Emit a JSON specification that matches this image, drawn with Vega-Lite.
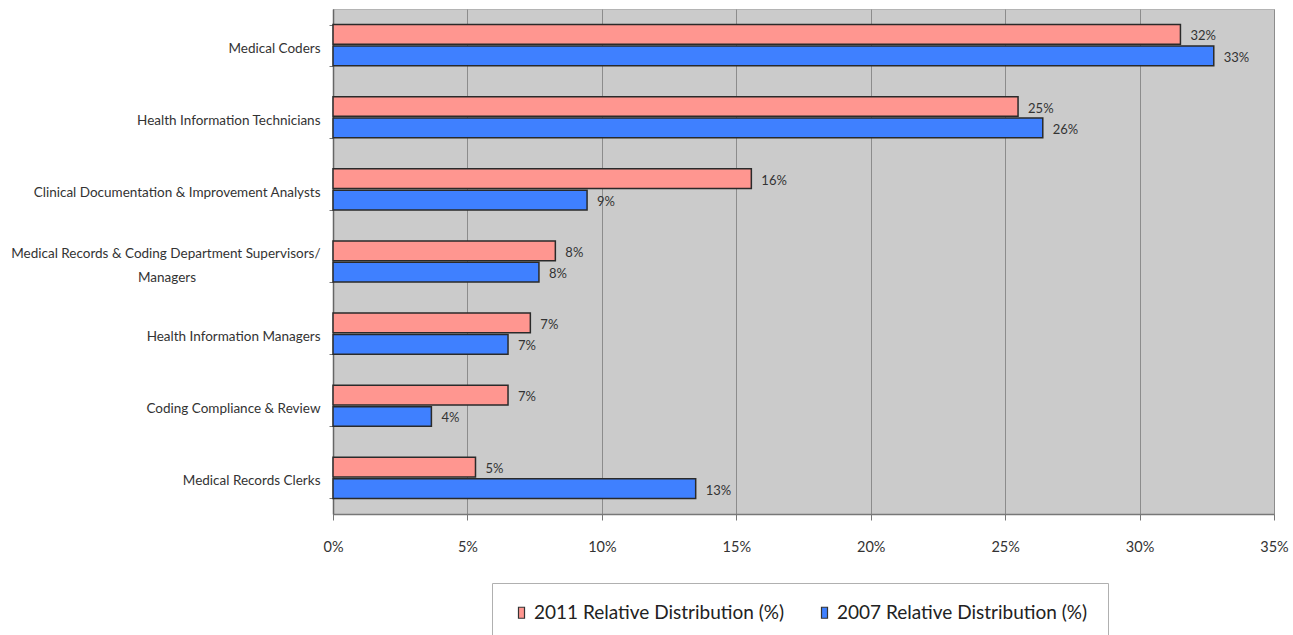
{
  "$schema": "https://vega.github.io/schema/vega-lite/v6.json",
  "width": 941,
  "height": 505,
  "autosize": {"type": "none"},
  "padding": {"left": 333, "top": 9, "right": 19, "bottom": 121},
  "background": "white",
  "config": {
    "font": "Lato",
    "view": {"fill": "#cbcbcb", "stroke": "#b4b4b4", "strokeWidth": 1}
  },
  "data": {
    "values": [
      {"role": "Medical Coders", "series": "2011 Relative Distribution (%)", "share": 0.3152},
      {"role": "Medical Coders", "series": "2007 Relative Distribution (%)", "share": 0.3276},
      {"role": "Health Information Technicians", "series": "2011 Relative Distribution (%)", "share": 0.2548},
      {"role": "Health Information Technicians", "series": "2007 Relative Distribution (%)", "share": 0.2640},
      {"role": "Clinical Documentation & Improvement Analysts", "series": "2011 Relative Distribution (%)", "share": 0.1556},
      {"role": "Clinical Documentation & Improvement Analysts", "series": "2007 Relative Distribution (%)", "share": 0.0945},
      {"role": "Medical Records & Coding Department Supervisors/ Managers", "series": "2011 Relative Distribution (%)", "share": 0.0827},
      {"role": "Medical Records & Coding Department Supervisors/ Managers", "series": "2007 Relative Distribution (%)", "share": 0.0766},
      {"role": "Health Information Managers", "series": "2011 Relative Distribution (%)", "share": 0.0734},
      {"role": "Health Information Managers", "series": "2007 Relative Distribution (%)", "share": 0.0651},
      {"role": "Coding Compliance & Review", "series": "2011 Relative Distribution (%)", "share": 0.0651},
      {"role": "Coding Compliance & Review", "series": "2007 Relative Distribution (%)", "share": 0.0366},
      {"role": "Medical Records Clerks", "series": "2011 Relative Distribution (%)", "share": 0.0530},
      {"role": "Medical Records Clerks", "series": "2007 Relative Distribution (%)", "share": 0.1349}
    ]
  },
  "encoding": {
    "y": {
      "field": "role",
      "type": "nominal",
      "sort": null,
      "scale": {"paddingInner": 0.43, "paddingOuter": 0.215},
      "axis": {
        "title": null,
        "tickBand": "extent",
        "tickSize": 4,
        "tickColor": "#777",
        "domainColor": "#666",
        "domainWidth": 1.5,
        "labelFont": "Lato",
        "labelFontSize": 13.5,
        "labelColor": "#333",
        "labelPadding": 9,
        "labelOffset": {
          "condition": {"test": "datum.value == 'Medical Records & Coding Department Supervisors/ Managers'", "value": -8},
          "value": 3
        },
        "labelLimit": 400,
        "labelLineHeight": 24,
        "labelExpr": "datum.value == 'Medical Records & Coding Department Supervisors/ Managers' ? ['Medical Records & Coding Department Supervisors/', 'Managers\u00a0\u00a0\u00a0\u00a0\u00a0\u00a0\u00a0\u00a0\u00a0\u00a0\u00a0\u00a0\u00a0\u00a0\u00a0\u00a0\u00a0\u00a0\u00a0\u00a0\u00a0\u00a0\u00a0\u00a0\u00a0\u00a0\u00a0\u00a0\u00a0\u00a0\u00a0\u00a0\u00a0\u00a0\u00a0\u00a0\u200b'] : datum.value"
      }
    },
    "yOffset": {
      "field": "series",
      "type": "nominal",
      "sort": ["2011 Relative Distribution (%)", "2007 Relative Distribution (%)"],
      "scale": {"paddingInner": 0.08}
    },
    "x": {
      "field": "share",
      "type": "quantitative",
      "scale": {"domain": [0, 0.35], "nice": false},
      "axis": {
        "title": null,
        "format": ".0%",
        "values": [0, 0.05, 0.1, 0.15, 0.2, 0.25, 0.3, 0.35],
        "labelFlush": false,
        "grid": true,
        "gridColor": "#8c8c8c",
        "gridWidth": 1,
        "domainColor": "#777",
        "domainWidth": 1.5,
        "tickColor": "#777",
        "tickSize": 6,
        "labelFont": "Lato",
        "labelFontSize": 14.5,
        "labelColor": "#333",
        "labelPadding": 20
      }
    }
  },
  "layer": [
    {
      "mark": {"type": "bar", "stroke": "#2a2a2a", "strokeWidth": 1.5},
      "encoding": {
        "color": {
          "field": "series",
          "type": "nominal",
          "scale": {
            "domain": ["2011 Relative Distribution (%)", "2007 Relative Distribution (%)"],
            "range": ["#ff9690", "#3f80ff"]
          },
          "legend": {
            "title": null,
            "orient": "none",
            "legendX": 159,
            "legendY": 574,
            "direction": "horizontal",
            "fillColor": "white",
            "strokeColor": "#b0b0b0",
            "padding": 20,
            "columnPadding": 30,
            "labelFont": "Lato",
            "labelFontSize": 19,
            "labelColor": "#222",
            "labelOffset": 3,
            "labelLimit": 400,
            "symbolType": "M-0.55,-1H0.55V1H-0.55Z",
            "symbolSize": 120,
            "symbolStrokeColor": "#333",
            "symbolStrokeWidth": 1.2,
            "symbolOpacity": 1
          }
        }
      }
    },
    {
      "mark": {
        "type": "text",
        "align": "left",
        "baseline": "middle",
        "dx": 10,
        "dy": 2,
        "font": "Lato",
        "fontSize": 13,
        "color": "#333"
      },
      "encoding": {
        "text": {"field": "share", "type": "quantitative", "format": ".0%"}
      }
    }
  ]
}
